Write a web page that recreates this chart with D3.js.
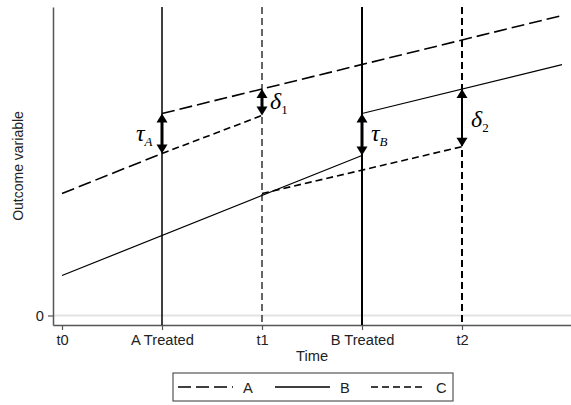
<!DOCTYPE html>
<html>
<head>
<meta charset="utf-8">
<script src="https://cdn.jsdelivr.net/npm/d3@7"></script>
<style>
  html, body { margin: 0; padding: 0; background: #fff; }
  svg { display: block; }
</style>
</head>
<body>
<svg id="chart" width="571" height="405"></svg>
<script>
// ---- data ----
const xTickValues = [0, 1, 2, 3, 4];
const xTickLabels = ["t0", "A Treated", "t1", "B Treated", "t2"];
const yTickValues = [0];
const yTickLabels = ["0"];

// Series A (long dash): pre and post treatment
const seriesA_pre  = [{t: 0, y: 3.05}, {t: 1, y: 4.05}];
const seriesA_post = [{t: 1, y: 5.05}, {t: 5, y: 7.5}];
// Series B (solid)
const seriesB_pre  = [{t: 0, y: 1.0}, {t: 3, y: 4.0}];
const seriesB_post = [{t: 3, y: 5.05}, {t: 5, y: 6.27}];
// Series C (short dash): counterfactual segments
const seriesC_1 = [{t: 1, y: 4.05}, {t: 2, y: 5.0}];
const seriesC_2 = [{t: 2, y: 3.05}, {t: 4, y: 4.22}];

// Event lines
const eventLines = [
  {t: 1, style: "solid", w: 1.5},
  {t: 2, style: "dash", w: 1.2},
  {t: 3, style: "solid", w: 2},
  {t: 4, style: "dash", w: 2}
];
// Effect arrows
const arrows = [
  {t: 1, y0: 4.05, y1: 5.05, w: 3, sym: "τ", sub: "A", subItalic: true,  lx: -26, ly: 4.55},
  {t: 2, y0: 5.0,  y1: 5.66, w: 3, sym: "δ", sub: "1", subItalic: false, lx: 8,   ly: 5.33},
  {t: 3, y0: 4.0,  y1: 5.05, w: 3, sym: "τ", sub: "B", subItalic: true,  lx: 9,   ly: 4.55},
  {t: 4, y0: 4.22, y1: 5.66, w: 2, sym: "δ", sub: "2", subItalic: false, lx: 9,   ly: 4.9}
];
const legendItems = [
  {label: "A", dash: "13,5"},
  {label: "B", dash: null},
  {label: "C", dash: "7,4"}
];

// ---- layout ----
const svg = d3.select("#chart");
const pLeft = 53, pRight = 571, pTop = 7, pBottom = 325;
const x = d3.scaleLinear().domain([-0.09, 5.09]).range([pLeft, pRight]);
const y = d3.scaleLinear().domain([-0.2375, 7.7125]).range([pBottom, pTop]);
const font = "'Liberation Sans', Arial, Helvetica, sans-serif";
const serif = "'Liberation Serif', 'Times New Roman', serif";

// gridline at 0
svg.append("line")
  .attr("x1", pLeft).attr("x2", pRight)
  .attr("y1", y(0)).attr("y2", y(0))
  .attr("stroke", "#e3e3e3").attr("stroke-width", 2);

// axes
const xAxis = d3.axisBottom(x).tickValues(xTickValues)
  .tickFormat((d, i) => xTickLabels[i]).tickSize(5).tickSizeOuter(0);
const gx = svg.append("g").attr("transform", `translate(0,${pBottom})`).call(xAxis);
gx.select(".domain").attr("stroke", "#555").attr("stroke-width", 1.5);
gx.selectAll(".tick line").attr("stroke", "#555").attr("stroke-width", 1.2);
gx.selectAll(".tick text").attr("font-family", font).attr("font-size", 14.7)
  .attr("fill", "#222").attr("dy", "0.82em");

const yAxis = d3.axisLeft(y).tickValues(yTickValues)
  .tickFormat((d, i) => yTickLabels[i]).tickSize(5).tickSizeOuter(0);
const gy = svg.append("g").attr("transform", `translate(${pLeft},0)`).call(yAxis);
gy.select(".domain").attr("stroke", "#555").attr("stroke-width", 1.5);
gy.selectAll(".tick line").attr("stroke", "#555").attr("stroke-width", 1.2);
gy.selectAll(".tick text").attr("font-family", font).attr("font-size", 14.7)
  .attr("fill", "#222").attr("x", -9);

// axis titles
svg.append("text").attr("x", 312).attr("y", 361).attr("text-anchor", "middle")
  .attr("font-family", font).attr("font-size", 14.7).attr("fill", "#222").text("Time");
svg.append("text").attr("transform", `translate(23,${(pTop + pBottom) / 2}) rotate(-90)`)
  .attr("text-anchor", "middle").attr("font-family", font).attr("font-size", 14)
  .attr("fill", "#222").text("Outcome variable");

// event vertical lines
svg.append("g").selectAll("line").data(eventLines).join("line")
  .attr("x1", d => x(d.t)).attr("x2", d => x(d.t))
  .attr("y1", pTop).attr("y2", pBottom)
  .attr("stroke", "#000").attr("stroke-width", d => d.w)
  .attr("stroke-dasharray", d => d.style === "dash" ? "7,4" : null);

// series lines
const line = d3.line().x(d => x(d.t)).y(d => y(d.y));
const segs = [
  {pts: seriesA_pre, dash: "13,5", w: 1.6},
  {pts: seriesA_post, dash: "13,5", w: 1.6},
  {pts: seriesB_pre, dash: null, w: 1.2},
  {pts: seriesB_post, dash: null, w: 1.2},
  {pts: seriesC_1, dash: "7,4", w: 1.6},
  {pts: seriesC_2, dash: "7,4", w: 1.6}
];
svg.append("g").selectAll("path").data(segs).join("path")
  .attr("d", d => line(d.pts)).attr("fill", "none")
  .attr("stroke", "#000").attr("stroke-width", d => d.w)
  .attr("stroke-dasharray", d => d.dash);

// arrows
const ag = svg.append("g");
arrows.forEach(a => {
  const cx = x(a.t), ya = y(a.y1), yb = y(a.y0); // ya top, yb bottom
  const hl = 9, hw = 5.5;
  ag.append("line").attr("x1", cx).attr("x2", cx)
    .attr("y1", ya + hl - 1).attr("y2", yb - hl + 1)
    .attr("stroke", "#000").attr("stroke-width", a.w);
  ag.append("path").attr("d", `M${cx},${ya} L${cx - hw},${ya + hl} L${cx + hw},${ya + hl} Z`).attr("fill", "#000");
  ag.append("path").attr("d", `M${cx},${yb} L${cx - hw},${yb - hl} L${cx + hw},${yb - hl} Z`).attr("fill", "#000");
  const t = ag.append("text").attr("x", cx + a.lx).attr("y", y(a.ly) + 7)
    .attr("font-family", serif).attr("font-size", 24).attr("fill", "#000");
  t.append("tspan").attr("font-style", "italic").text(a.sym);
  t.append("tspan").attr("font-size", 13).attr("dy", 5)
    .attr("font-style", a.subItalic ? "italic" : "normal").text(a.sub);
});

// legend
const lg = svg.append("g");
lg.append("rect").attr("x", 173).attr("y", 373).attr("width", 280).attr("height", 28)
  .attr("fill", "#fff").attr("stroke", "#555").attr("stroke-width", 1.2);
const lx0 = [178, 275, 371];
legendItems.forEach((it, i) => {
  lg.append("line").attr("x1", lx0[i]).attr("x2", lx0[i] + 55)
    .attr("y1", 387).attr("y2", 387).attr("stroke", "#000").attr("stroke-width", 1.5)
    .attr("stroke-dasharray", it.dash);
  lg.append("text").attr("x", lx0[i] + 65).attr("y", 392.5)
    .attr("font-family", font).attr("font-size", 14.7).attr("fill", "#222").text(it.label);
});
</script>
</body>
</html>
